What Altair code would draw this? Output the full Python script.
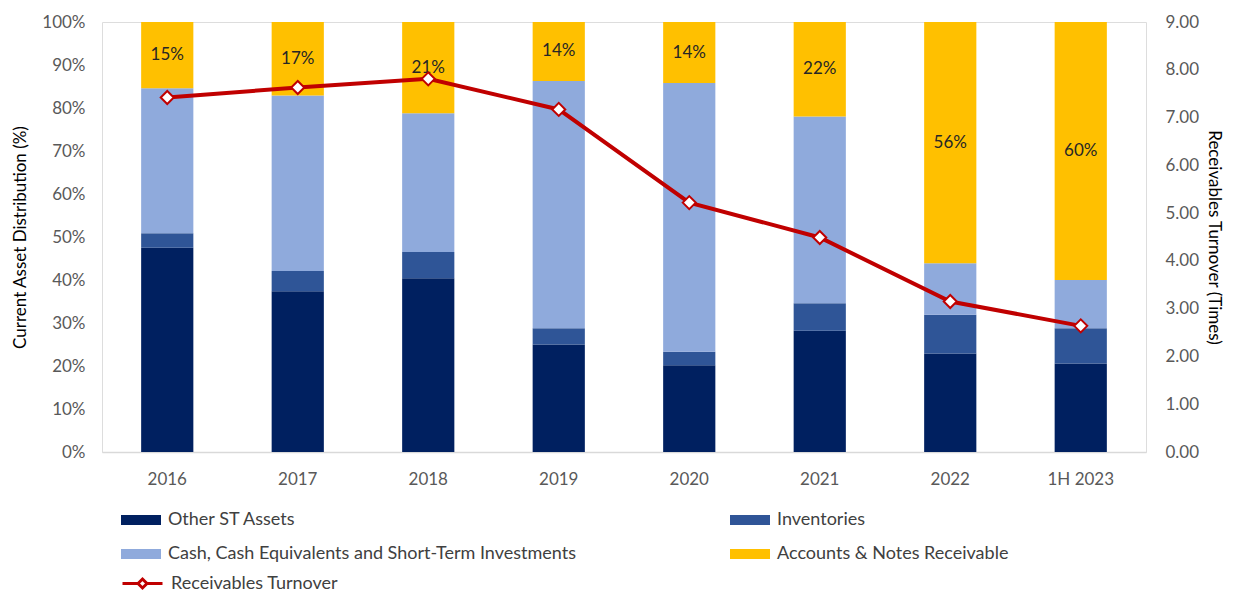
import altair as alt
import pandas as pd

periods = ["2016", "2017", "2018", "2019", "2020", "2021", "2022", "1H 2023"]
other_st = [47.5, 37.4, 40.4, 25.0, 20.2, 28.2, 22.9, 20.6]
inventories = [3.4, 4.7, 6.1, 3.8, 3.1, 6.4, 9.0, 8.2]
cash = [33.7, 40.8, 32.3, 57.5, 62.5, 43.4, 12.0, 11.2]
receivables = [15.4, 17.1, 21.2, 13.7, 14.2, 22.0, 56.1, 60.0]
turnover = [7.42, 7.63, 7.81, 7.17, 5.22, 4.49, 3.15, 2.64]
ar_labels = ["15%", "17%", "21%", "14%", "14%", "22%", "56%", "60%"]

series = [
    "Other ST Assets",
    "Inventories",
    "Cash, Cash Equivalents and Short-Term Investments",
    "Accounts & Notes Receivable",
]
series_colors = ["#002060", "#2F5597", "#8FAADC", "#FFC000"]
line_name = "Receivables Turnover"
line_color = "#C00000"

FONT = "Lato"

rows = []
for i, p in enumerate(periods):
    for k, vals in enumerate([other_st, inventories, cash, receivables]):
        rows.append({"period": p, "series": series[k], "order": k, "value": vals[i]})
df_long = pd.DataFrame(rows)

df_wide = pd.DataFrame({
    "period": periods,
    "receivables": receivables,
    "label": ar_labels,
    "turnover": turnover,
    "name": [line_name] * len(periods),
})

x_enc = alt.X(
    "period:N", sort=periods,
    scale=alt.Scale(paddingInner=0.6, paddingOuter=0.3),
    axis=alt.Axis(title=None, labelAngle=0, ticks=False, tickSize=0, labelPadding=19,
                  labelFont=FONT, labelFontSize=17, labelColor="#595959",
                  domainColor="#D9D9D9", domainWidth=1.5, grid=False),
)

left_axis = alt.Axis(
    title="Current Asset Distribution (%)", values=list(range(0, 101, 10)),
    labelExpr="datum.value + '%'", ticks=False, tickSize=0, domain=False, grid=False,
    labelPadding=17, labelFont=FONT, labelFontSize=17, labelColor="#595959",
    titleFont=FONT, titleFontSize=17, titleFontWeight="normal", titleColor="#000000",
    titlePadding=12,
)
right_axis = alt.Axis(
    title="Receivables  Turnover (Times)", orient="right", values=list(range(0, 10)),
    format=".2f", ticks=False, tickSize=0, domain=False, grid=False,
    labelPadding=19, labelFont=FONT, labelFontSize=17, labelColor="#595959",
    titleFont=FONT, titleFontSize=17, titleFontWeight="normal", titleColor="#000000",
    titlePadding=6,
)

bars = alt.Chart(df_long).mark_bar().encode(
    x=x_enc,
    y=alt.Y("value:Q", stack="zero", scale=alt.Scale(domain=[0, 100]), axis=left_axis),
    color=alt.Color(
        "series:N", sort=series,
        scale=alt.Scale(domain=series, range=series_colors),
        legend=alt.Legend(
            orient="none", legendX=29, legendY=488, direction="horizontal", columns=2,
            title=None, symbolType="M-2,-0.5H2V0.5H-2Z", symbolSize=400,
            symbolStrokeWidth=0, labelFont=FONT, labelFontSize=18, labelColor="#404040",
            labelLimit=700, columnPadding=154, rowPadding=15, labelOffset=17,
        ),
    ),
    order=alt.Order("order:Q"),
)

labels = alt.Chart(df_wide).mark_text(
    font=FONT, fontSize=17, color="#262626"
).transform_calculate(
    mid="100 - datum.receivables / 2"
).encode(
    x=x_enc,
    y=alt.Y("mid:Q", scale=alt.Scale(domain=[0, 100]), axis=left_axis),
    text="label:N",
)

line = alt.Chart(df_wide).mark_line(strokeWidth=4).encode(
    x=x_enc,
    y=alt.Y("turnover:Q", scale=alt.Scale(domain=[0, 9]), axis=right_axis),
    stroke=alt.Stroke(
        "name:N",
        scale=alt.Scale(domain=[line_name], range=[line_color]),
        legend=alt.Legend(
            orient="none", legendX=29, legendY=550, title=None,
            symbolType="M-2,0H-0.45M0.45,0H2M-0.45,0L0,-0.45L0.45,0L0,0.45Z",
            symbolSize=400, symbolStrokeWidth=3, symbolFillColor="#FFFFFF",
            labelFont=FONT, labelFontSize=18, labelColor="#404040", labelLimit=700,
            labelOffset=17,
        ),
    ),
)

points = alt.Chart(df_wide).mark_point(
    shape="diamond", filled=True, fill="#FFFFFF", stroke=line_color,
    strokeWidth=2, size=170, opacity=1,
).encode(
    x=x_enc,
    y=alt.Y("turnover:Q", scale=alt.Scale(domain=[0, 9]), axis=right_axis),
)

chart = alt.layer(
    alt.layer(bars, labels), alt.layer(line, points)
).resolve_scale(
    y="independent"
).properties(
    width=1044, height=430,
    padding={"left": 94, "top": 14, "right": 79, "bottom": 140},
    autosize=alt.AutoSizeParams(type="none"),
).configure_view(stroke=None).configure(background="#FFFFFF")

chart.save("out.html", embed_options={"renderer": "svg", "actions": False})
